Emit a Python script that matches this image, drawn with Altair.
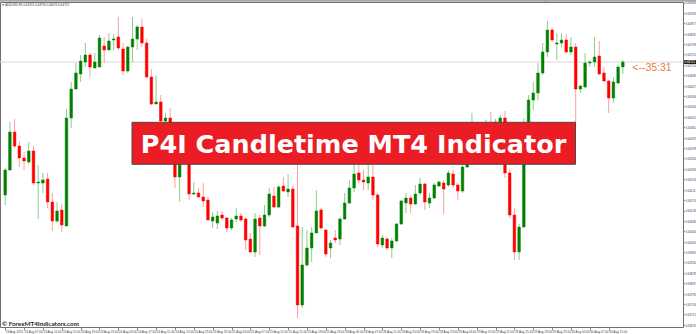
import altair as alt
import pandas as pd

# ---------------- data (AUDUSD, H1) ----------------
open_ = [
    0.64190, 0.64290, 0.64442, 0.64386, 0.64338, 0.64322, 0.64366, 0.64238, 0.64238, 0.64254,
    0.64162, 0.64086, 0.64130, 0.64066, 0.64498, 0.64614, 0.64674, 0.64722, 0.64750, 0.64698,
    0.64702, 0.64786, 0.64770, 0.64810, 0.64822, 0.64774, 0.64686, 0.64782, 0.64814, 0.64862,
    0.64798, 0.64662, 0.64554, 0.64562, 0.64486, 0.64498, 0.64410, 0.64262, 0.64370, 0.64350,
    0.64194, 0.64198, 0.64182, 0.64170, 0.64086, 0.64078, 0.64110, 0.64098, 0.64058, 0.64094,
    0.64106, 0.64094, 0.64014, 0.63962, 0.64098, 0.64066, 0.64110, 0.64186, 0.64142, 0.64226,
    0.64202, 0.64214, 0.64066, 0.63750, 0.63910, 0.63978, 0.64038, 0.64130, 0.64050, 0.63978,
    0.64018, 0.64014, 0.64094, 0.64158, 0.64218, 0.64278, 0.64250, 0.64238, 0.64262, 0.64190,
    0.63990, 0.64014, 0.63978, 0.64006, 0.64074, 0.64158, 0.64178, 0.64154, 0.64198, 0.64234,
    0.64158, 0.64178, 0.64226, 0.64238, 0.64230, 0.64274, 0.64230, 0.64206, 0.64302, 0.64370,
    0.64450, 0.64418, 0.64458, 0.64470, 0.64442, 0.64482, 0.64498, 0.64278, 0.64110, 0.63962,
    0.64062, 0.64478, 0.64570, 0.64598, 0.64678, 0.64762, 0.64850, 0.64794, 0.64798, 0.64810,
    0.64762, 0.64782, 0.64614, 0.64622, 0.64718, 0.64722, 0.64746, 0.64678, 0.64646, 0.64578,
    0.64638, 0.64702,
]
high = [
    0.64298, 0.64482, 0.64494, 0.64406, 0.64362, 0.64402, 0.64386, 0.64310, 0.64278, 0.64278,
    0.64198, 0.64162, 0.64154, 0.64534, 0.64642, 0.64718, 0.64750, 0.64798, 0.64758, 0.64758,
    0.64830, 0.64822, 0.64838, 0.64834, 0.64902, 0.64798, 0.64786, 0.64902, 0.64870, 0.64894,
    0.64814, 0.64694, 0.64666, 0.64590, 0.64518, 0.64538, 0.64426, 0.64386, 0.64390, 0.64370,
    0.64242, 0.64218, 0.64238, 0.64182, 0.64122, 0.64126, 0.64126, 0.64102, 0.64098, 0.64138,
    0.64118, 0.64102, 0.64038, 0.64118, 0.64110, 0.64150, 0.64218, 0.64222, 0.64230, 0.64262,
    0.64274, 0.64226, 0.64350, 0.64062, 0.64050, 0.64062, 0.64210, 0.64138, 0.64054, 0.64010,
    0.64050, 0.64102, 0.64198, 0.64250, 0.64338, 0.64330, 0.64290, 0.64330, 0.64338, 0.64198,
    0.64030, 0.64022, 0.64018, 0.64078, 0.64170, 0.64198, 0.64190, 0.64230, 0.64258, 0.64238,
    0.64198, 0.64238, 0.64246, 0.64250, 0.64290, 0.64290, 0.64238, 0.64310, 0.64390, 0.64518,
    0.64466, 0.64474, 0.64490, 0.64522, 0.64494, 0.64510, 0.64526, 0.64290, 0.64138, 0.64074,
    0.64498, 0.64590, 0.64642, 0.64718, 0.64798, 0.64886, 0.64858, 0.64838, 0.64838, 0.64834,
    0.64822, 0.64798, 0.64630, 0.64758, 0.64730, 0.64822, 0.64806, 0.64702, 0.64650, 0.64662,
    0.64710, 0.64730,
]
low = [
    0.64150, 0.64286, 0.64378, 0.64302, 0.64290, 0.64314, 0.64230, 0.64094, 0.64198, 0.64138,
    0.64046, 0.64078, 0.64042, 0.64066, 0.64458, 0.64610, 0.64642, 0.64702, 0.64662, 0.64698,
    0.64702, 0.64718, 0.64770, 0.64770, 0.64770, 0.64670, 0.64678, 0.64722, 0.64770, 0.64782,
    0.64658, 0.64550, 0.64554, 0.64478, 0.64482, 0.64398, 0.64218, 0.64162, 0.64330, 0.64170,
    0.64190, 0.64182, 0.64142, 0.64090, 0.64058, 0.64054, 0.64090, 0.64042, 0.64050, 0.64082,
    0.64082, 0.63970, 0.63958, 0.63942, 0.63950, 0.64062, 0.64102, 0.64138, 0.64138, 0.64202,
    0.64182, 0.64058, 0.63698, 0.63738, 0.63902, 0.63922, 0.64038, 0.64050, 0.63942, 0.63938,
    0.63998, 0.63990, 0.64090, 0.64154, 0.64202, 0.64238, 0.64210, 0.64210, 0.64170, 0.63982,
    0.63978, 0.63970, 0.63938, 0.64002, 0.64070, 0.64118, 0.64118, 0.64150, 0.64190, 0.64130,
    0.64138, 0.64174, 0.64222, 0.64114, 0.64222, 0.64218, 0.64170, 0.64198, 0.64298, 0.64362,
    0.64402, 0.64410, 0.64442, 0.64430, 0.64430, 0.64474, 0.64258, 0.64098, 0.63930, 0.63930,
    0.64058, 0.64462, 0.64530, 0.64570, 0.64670, 0.64742, 0.64802, 0.64730, 0.64782, 0.64758,
    0.64750, 0.64462, 0.64598, 0.64618, 0.64702, 0.64702, 0.64670, 0.64642, 0.64518, 0.64558,
    0.64634, 0.64674,
]
close = [
    0.64290, 0.64442, 0.64386, 0.64338, 0.64326, 0.64366, 0.64238, 0.64242, 0.64250, 0.64162,
    0.64086, 0.64126, 0.64070, 0.64498, 0.64614, 0.64678, 0.64726, 0.64750, 0.64702, 0.64722,
    0.64818, 0.64770, 0.64806, 0.64814, 0.64778, 0.64686, 0.64782, 0.64814, 0.64862, 0.64798,
    0.64662, 0.64554, 0.64562, 0.64486, 0.64498, 0.64410, 0.64262, 0.64370, 0.64350, 0.64194,
    0.64198, 0.64182, 0.64166, 0.64090, 0.64102, 0.64106, 0.64098, 0.64058, 0.64090, 0.64106,
    0.64090, 0.64010, 0.63962, 0.64094, 0.64066, 0.64110, 0.64194, 0.64142, 0.64222, 0.64206,
    0.64214, 0.64062, 0.63750, 0.63910, 0.63978, 0.64038, 0.64126, 0.64058, 0.63954, 0.63998,
    0.64010, 0.64094, 0.64158, 0.64218, 0.64274, 0.64250, 0.64242, 0.64262, 0.64190, 0.63994,
    0.64018, 0.63978, 0.64006, 0.64074, 0.64166, 0.64178, 0.64154, 0.64194, 0.64234, 0.64162,
    0.64178, 0.64230, 0.64242, 0.64214, 0.64278, 0.64230, 0.64206, 0.64302, 0.64370, 0.64450,
    0.64418, 0.64458, 0.64470, 0.64442, 0.64482, 0.64498, 0.64278, 0.64110, 0.63962, 0.64062,
    0.64478, 0.64570, 0.64598, 0.64678, 0.64762, 0.64850, 0.64810, 0.64798, 0.64810, 0.64762,
    0.64782, 0.64614, 0.64626, 0.64718, 0.64722, 0.64742, 0.64674, 0.64646, 0.64578, 0.64642,
    0.64702, 0.64722,
]

time_ticks = list(range(0, 129, 4))
time_labels = [
    "23 Aug 2023", "23 Aug 07:00", "23 Aug 11:00", "23 Aug 15:00", "23 Aug 19:00", "23 Aug 23:00",
    "24 Aug 03:00", "24 Aug 07:00", "24 Aug 11:00", "24 Aug 15:00", "24 Aug 19:00", "24 Aug 23:00",
    "25 Aug 03:00", "25 Aug 07:00", "25 Aug 11:00", "25 Aug 15:00", "25 Aug 19:00", "25 Aug 23:00",
    "28 Aug 03:00", "28 Aug 07:00", "28 Aug 11:00", "28 Aug 15:00", "28 Aug 19:00", "28 Aug 23:00",
    "29 Aug 03:00", "29 Aug 07:00", "29 Aug 11:00", "29 Aug 15:00", "29 Aug 19:00", "29 Aug 23:00",
    "30 Aug 03:00", "30 Aug 07:00", "30 Aug 11:00",
]
price_ticks = [
    0.64960, 0.64918, 0.64877, 0.64835, 0.64794, 0.64752, 0.64710, 0.64669, 0.64627, 0.64586,
    0.64544, 0.64502, 0.64461, 0.64419, 0.64378, 0.64336, 0.64294, 0.64253, 0.64211, 0.64170,
    0.64128, 0.64086, 0.64045, 0.64003, 0.63962, 0.63920, 0.63878, 0.63837, 0.63795, 0.63754,
    0.63712, 0.63670,
]
banner_text = "P4I Candletime MT4 Indicator"
timer_text = "<--35:31"
watermark = "\u00a9 ForexMT4Indicators.com"
info_text = "\u25bc AUDUSD,H1  0.64702 0.64730 0.64674 0.64722"

GREEN, RED = "#008000", "#ff0000"
WICK_G, WICK_R = "#8fcb8f", "#ff9e9e"

# ---------------- tables ----------------
n = len(open_)
df = pd.DataFrame({"t": list(range(n)), "open": open_, "high": high,
                   "low": low, "close": close})
df["dir"] = ["up" if c >= o else "down" for o, c in zip(open_, close)]

last_df = pd.DataFrame({"t": [n - 1 + 2], "close": [close[-1]], "timer": [timer_text],
                        "plabel": ["%.5f" % close[-1]]})
one = pd.DataFrame({"label": [banner_text]})

W, H = 683, 325
xscale = alt.Scale(domain=[-0.04, 142.7], nice=False, zero=False)
yscale = alt.Scale(domain=[0.63662, 0.64962], nice=False, zero=False)

label_js = "[" + ",".join("'%s'" % s for s in time_labels) + "]"
xaxis = alt.Axis(values=time_ticks, labelExpr=label_js + "[round(datum.value/4)]",
                 orient="bottom", domain=False, grid=False, ticks=True, tickSize=3,
                 tickColor="#8a8a8a", labelFontSize=3.1, labelColor="#444444",
                 labelAlign="left", labelBaseline="top", labelPadding=0.5,
                 labelOverlap=False, labelFlush=False, labelFont="Liberation Sans", title=None)
yaxis = alt.Axis(values=price_ticks, format=".5f", orient="right", domain=False, grid=False,
                 ticks=True, tickSize=1.5, tickColor="#8a8a8a", labelFontSize=2.9,
                 labelColor="#444444", labelPadding=0.4, labelBaseline="middle",
                 labelOverlap=False, labelFlush=False, labelFont="Liberation Sans", title=None)

X = alt.X("t:Q", scale=xscale, axis=xaxis, title=None)


def Y(field):
    return alt.Y(field, type="quantitative", scale=yscale, axis=yaxis, title=None)


price_line = alt.Chart(last_df).mark_rule(color="#d6d6d6", strokeWidth=1).encode(
    y=Y("close"))

wicks = alt.Chart(df).mark_rule(strokeWidth=1).encode(
    x=X, y=Y("low"), y2="high",
    color=alt.condition("datum.dir == 'up'", alt.value(WICK_G), alt.value(WICK_R)))

bodies = alt.Chart(df).mark_bar(size=2.6, strokeWidth=0.5).encode(
    x=X, y=Y("open"), y2="close",
    color=alt.condition("datum.dir == 'up'", alt.value(GREEN), alt.value(RED)),
    stroke=alt.condition("datum.dir == 'up'", alt.value(GREEN), alt.value(RED)))

timer = alt.Chart(last_df).mark_text(align="left", baseline="top", dy=1, font="Liberation Sans",
                                     fontSize=10.5, color="#e87c3e").encode(
    x=X, y=Y("close"), text="timer:N")

pbox = alt.Chart(last_df).transform_calculate(
    hi="datum.close + 0.00008", lo="datum.close - 0.00008").mark_rect(color="#1e1e1e").encode(
    x=alt.value(684), x2=alt.value(697), y=Y("lo"), y2="hi")
ptext = alt.Chart(last_df).mark_text(align="left", baseline="middle", fontSize=2.9,
                                     color="white", font="Liberation Sans").encode(
    x=alt.value(684.6), y=Y("close"), text="plabel:N")

banner = alt.Chart(one).mark_rect(color="#ec1c24", stroke="#4a4a4a", strokeWidth=1).encode(
    x=alt.value(132), x2=alt.value(575.5), y=alt.value(120.3), y2=alt.value(162.3))
banner_lbl = alt.Chart(one).mark_text(align="center", baseline="alphabetic", font="DejaVu Sans",
                                      fontWeight="bold", fontSize=25.5, color="white").encode(
    x=alt.value(353.5), y=alt.value(151.3), text="label:N")

wm = alt.Chart(pd.DataFrame({"w": [watermark]})).mark_text(
    align="left", baseline="alphabetic", font="Lato", fontWeight="bold", fontSize=6.3,
    color="#1c1c1c").encode(x=alt.value(2), y=alt.value(324.3), text="w:N")

topband = alt.Chart(one).mark_rect(color="#a9a9a9").encode(
    x=alt.value(0), x2=alt.value(696), y=alt.value(-2), y2=alt.value(-0.3))
info = alt.Chart(pd.DataFrame({"i": [info_text]})).mark_text(
    align="left", baseline="middle", font="Liberation Sans", fontSize=3, color="#333333").encode(
    x=alt.value(1.5), y=alt.value(2.3), text="i:N")
shift = alt.Chart(one).mark_point(shape="triangle-down", filled=True, size=8,
                                  color="#8c8c8c", opacity=1).encode(
    x=alt.value(546), y=alt.value(0.5))

chart = alt.layer(price_line, wicks, bodies, timer, pbox, ptext, banner, banner_lbl,
                  wm, topband, info, shift).properties(
    width=W, height=H,
    padding={"left": 0, "top": 2, "right": 13, "bottom": 7},
    autosize=alt.AutoSizeParams(type="none"),
    background="white",
).configure_view(stroke="#707070", strokeWidth=1)

chart.save("out.html", embed_options={"renderer": "svg", "actions": False})
